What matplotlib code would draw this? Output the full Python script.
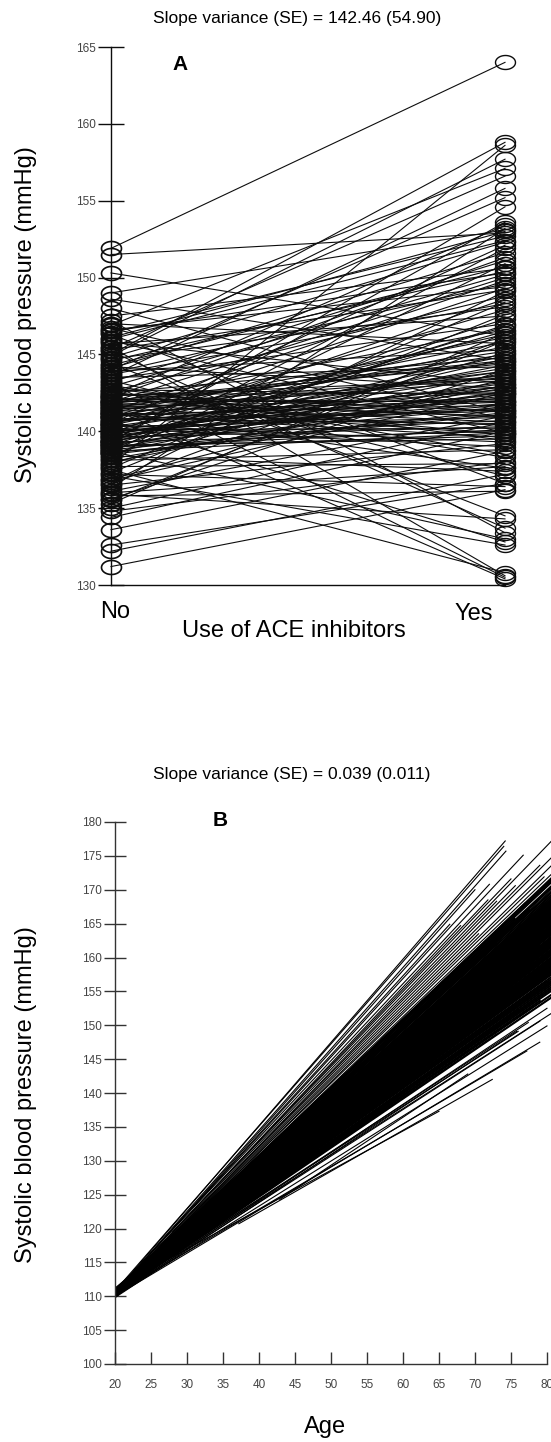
import numpy as np
import matplotlib
matplotlib.use("Agg")
import matplotlib.pyplot as plt
from matplotlib.path import Path

plt.rcParams['font.family'] = ['Liberation Sans', 'DejaVu Sans']

# - PANEL A DATA - #
# predicted SBP per subject without / with ACE inhibitors
no_sbp = [
    151.9, 151.5, 150.3, 149.0, 148.6, 148.0, 147.5, 147.2, 146.9, 146.6,
    146.3, 146.0, 145.8, 145.5, 145.2, 145.0, 144.7, 144.4, 144.1, 143.9,
    143.6, 143.4, 143.1, 142.9, 142.7, 142.5, 142.3, 142.1, 141.9, 141.7,
    141.5, 141.3, 141.1, 140.9, 140.7, 140.5, 140.3, 140.1, 139.9, 139.7,
    139.5, 139.3, 139.1, 138.9, 138.7, 138.5, 138.3, 138.1, 137.9, 137.7,
    137.5, 137.3, 137.1, 136.9, 136.7, 136.5, 136.3, 136.1, 135.9, 135.6,
    135.3, 135.0, 134.8, 134.4, 133.6, 132.6, 132.2, 131.2, 144.9, 143.0,
    142.0, 141.8, 141.6, 141.4, 141.2, 141.0, 140.8, 140.6, 140.4, 140.2,
    140.0, 139.8, 139.6, 139.4, 139.2, 139.0, 138.8, 138.6, 138.4, 138.2,
    142.8, 142.6, 142.4, 142.2, 143.3, 143.8, 144.2, 144.6, 145.4, 145.9,
    146.4, 146.7, 147.0, 137.2, 136.8, 136.0, 135.8, 137.6, 138.0, 139.3,
    140.5, 141.2, 141.9, 142.6, 143.5, 144.0, 139.1, 138.6, 137.8, 140.9,
    139.0, 139.2, 139.4, 139.6, 139.8, 140.0, 140.2, 140.4, 140.6, 140.8,
    141.0, 141.2, 141.4, 141.6, 141.8, 142.0, 142.2, 142.4, 138.8, 138.6,
    139.1, 139.3, 139.5, 139.7, 139.9, 140.1, 140.3, 140.5, 140.7, 140.9,
    141.1, 141.3, 141.5, 141.7, 141.9, 142.1, 142.3, 138.7, 138.9, 139.4,
    143.2, 143.7, 144.3, 144.8, 145.3, 145.7, 146.1, 146.5, 136.6, 135.5,
]
yes_sbp = [
    164.0, 152.9, 146.2, 153.1, 144.6, 141.2, 150.6, 133.4, 157.1, 149.4,
    136.6, 152.4, 143.1, 130.6, 133.7, 158.8, 148.1, 134.5, 151.6, 145.3,
    155.8, 147.0, 130.5, 150.2, 142.4, 144.8, 153.4, 140.9, 146.6, 143.6,
    130.4, 149.8, 141.7, 145.8, 132.8, 152.1, 143.9, 140.2, 148.6, 142.9,
    144.3, 154.6, 139.5, 146.9, 133.0, 141.4, 150.9, 138.8, 145.1, 137.9,
    130.8, 147.6, 132.6, 143.4, 149.1, 139.2, 153.2, 141.0, 134.3, 144.0,
    146.4, 140.6, 138.0, 140.0, 138.7, 136.6, 137.2, 136.2, 157.7, 138.5,
    142.0, 144.5, 139.8, 143.3, 146.1, 141.9, 140.5, 142.7, 145.5, 139.0,
    141.5, 143.7, 140.3, 142.2, 147.3, 139.7, 144.7, 141.1, 137.4, 142.6,
    139.4, 148.8, 141.3, 151.3, 137.1, 149.6, 142.8, 150.4, 156.6, 139.9,
    152.7, 140.8, 145.7, 136.4, 142.5, 137.7, 136.1, 148.4, 143.0, 153.6,
    147.9, 137.6, 150.0, 138.3, 144.2, 155.2, 146.8, 151.9, 158.6, 149.3,
    140.1, 141.6, 142.3, 140.7, 143.2, 141.8, 144.1, 139.3, 142.9, 141.4,
    145.0, 140.4, 143.5, 142.1, 141.0, 144.6, 139.8, 142.5, 141.2, 143.8,
    142.8, 140.0, 144.9, 141.7, 143.1, 142.4, 140.9, 146.3, 141.3, 143.9,
    139.6, 142.0, 145.2, 140.6, 144.4, 141.9, 143.4, 139.9, 142.6, 146.5,
    151.1, 148.3, 150.7, 152.3, 149.2, 147.5, 153.0, 150.3, 146.0, 145.9,
]
ace_labels = ["No", "Yes"]
a_yticks = [130, 135, 140, 145, 150, 155, 160, 165]

# - PANEL B DATA - #
# individual regression lines of SBP on age: (start age, start sbp) -> (end age, end sbp)
# order: 24 steep upper lines, 81 core lines, 18 flat lower lines
n_upper, n_lower = 24, 18
age_start = [
    # steep upper lines
    20.0, 20.0, 20.0, 20.0, 21.0, 31.0, 20.0, 20.0, 28.0, 20.0, 20.0, 20.0,
    24.0, 20.0, 20.0, 22.0, 20.0, 20.0, 20.0, 20.0, 20.0, 20.0, 20.0, 20.0,
    # core
    20.0, 21.0, 20.0, 20.0, 22.0, 20.0, 20.0, 20.5, 20.0, 20.0, 21.0, 20.0,
    20.0, 20.0, 20.0, 22.0, 20.0, 20.0, 20.0, 20.0, 21.0, 20.0, 20.0, 20.0,
    20.0, 20.0, 20.5, 20.0, 20.0, 20.0, 20.0, 22.0, 20.0, 20.0, 20.0, 20.0,
    20.0, 20.0, 20.0, 20.0, 20.0, 20.0, 20.0, 20.0, 20.0, 20.0, 20.0, 20.0,
    20.0, 20.0, 20.0, 20.0, 20.0, 20.0, 20.0, 20.0, 20.0,
    20.0, 20.0, 20.0, 20.0, 20.0, 20.0, 20.0, 20.0, 20.0, 20.0,
    20.0, 20.0, 20.0, 20.0, 20.0, 20.0, 20.0, 20.0, 20.0, 20.0,
    20.0, 20.0, 20.0, 20.0, 20.0, 20.0, 20.0, 20.0, 20.0, 20.0,
    20.0, 20.0, 20.0, 20.0, 20.0, 20.0, 20.0, 20.0,
    20.0, 20.0, 20.0, 20.0, 20.0, 20.0, 20.0, 20.0, 20.0, 20.0, 20.0, 20.0,
    20.0, 20.0, 20.0, 20.0, 20.0, 20.0, 20.0, 20.0, 20.0, 20.0, 20.0, 20.0,
    # flat lower lines
    20.0, 20.0, 20.0, 20.0, 20.0, 20.0, 21.0, 20.0, 20.0, 20.0, 20.0, 20.0,
    20.0, 22.0, 37.2, 22.1, 42.9, 20.0,
]
sbp_start = [
    110.6, 110.8, 110.5, 110.4, 111.7, 123.3, 110.7, 110.4, 119.5, 110.6, 110.5, 110.3,
    114.8, 110.6, 110.5, 112.6, 110.4, 110.6, 110.5, 110.7, 110.5, 110.4, 110.6, 110.5,
    110.5, 111.5, 110.2, 110.5, 112.4, 110.8, 110.5, 111.0, 109.9, 110.5, 111.4, 110.5,
    111.1, 110.5, 110.3, 112.3, 110.5, 110.7, 110.5, 110.2, 111.4, 110.5, 110.9, 110.5,
    110.5, 110.0, 110.9, 110.5, 110.5, 110.8, 110.5, 112.1, 110.3, 110.5, 110.6, 110.5,
    110.5, 110.4, 110.5, 110.5, 110.2, 110.6, 110.5, 110.9, 110.5, 110.4, 110.5, 110.3,
    110.7, 110.5, 110.1, 110.5, 110.8, 110.5, 110.3, 110.6, 110.5,
    110.2, 110.5, 110.4, 110.6, 110.3, 110.5, 110.1, 110.5, 110.4, 110.6,
    110.7, 110.5, 110.8, 110.5, 110.6, 110.4, 110.9, 110.5, 110.7, 110.5,
    110.4, 110.5, 110.6, 110.3, 110.5, 110.7, 110.5, 110.2, 110.5, 110.6,
    110.5, 110.4, 110.6, 110.5, 110.8, 110.5, 110.6, 110.5,
    110.0, 111.0, 110.2, 110.8, 110.1, 110.9, 110.3, 111.0, 110.0, 110.7, 110.2, 110.9,
    110.1, 110.8, 110.0, 111.0, 110.3, 110.7, 110.1, 110.9, 110.2, 110.8, 110.0, 110.6,
    110.5, 110.3, 110.6, 110.2, 110.5, 110.0, 111.2, 110.4, 110.1, 110.0, 110.3, 110.5,
    109.8, 111.8, 120.7, 112.4, 124.3, 110.0,
]
age_end = [
    74.2, 74.0, 74.3, 70.0, 66.5, 72.0, 76.7, 68.0, 71.8, 75.0, 82.0, 73.0,
    75.6, 79.0, 82.0, 70.5, 82.0, 79.6, 82.0, 77.0, 82.0, 74.0, 82.0, 82.0,
    82.0, 78.0, 82.0, 72.0, 82.0, 76.0, 82.0, 80.0, 82.0, 69.0, 82.0, 82.0,
    77.0, 82.0, 82.0, 74.0, 82.0, 82.0, 79.0, 82.0, 82.0, 71.0, 82.0, 82.0,
    78.0, 82.0, 82.0, 82.0, 75.0, 82.0, 82.0, 80.0, 82.0, 82.0, 82.0, 77.0,
    82.0, 82.0, 82.0, 82.0, 82.0, 82.0, 82.0, 82.0, 82.0, 82.0, 82.0, 82.0,
    82.0, 82.0, 82.0, 82.0, 82.0, 82.0, 82.0, 82.0, 82.0,
    82.0, 82.0, 79.0, 82.0, 82.0, 76.0, 82.0, 82.0, 82.0, 80.0,
    73.0, 82.0, 82.0, 77.5, 82.0, 82.0, 75.5, 82.0, 82.0, 82.0,
    82.0, 82.0, 82.0, 82.0, 82.0, 82.0, 82.0, 82.0, 82.0, 82.0,
    82.0, 82.0, 82.0, 82.0, 82.0, 82.0, 82.0, 82.0,
    82.0, 82.0, 82.0, 82.0, 82.0, 82.0, 82.0, 82.0, 82.0, 82.0, 82.0, 82.0,
    82.0, 82.0, 82.0, 82.0, 82.0, 82.0, 82.0, 82.0, 82.0, 82.0, 82.0, 82.0,
    82.0, 80.0, 82.0, 78.0, 82.0, 80.0, 76.0, 82.0, 79.0, 79.0, 77.2, 73.0,
    75.8, 77.4, 72.4, 65.0, 69.0, 80.0,
]
sbp_end = [
    177.2, 176.4, 175.7, 170.0, 164.9, 170.8, 175.1, 164.7, 168.5, 171.6, 178.7, 168.3,
    170.6, 173.6, 176.2, 163.5, 175.0, 171.9, 173.7, 168.1, 172.5, 164.0, 171.3, 170.6,
    170.0, 165.9, 169.4, 159.6, 168.8, 162.9, 168.2, 166.0, 167.5, 155.3, 166.9, 166.6,
    161.8, 166.0, 165.7, 158.3, 165.1, 164.8, 161.8, 164.1, 163.8, 154.1, 163.2, 162.9,
    159.2, 162.3, 162.0, 161.7, 155.6, 161.0, 160.7, 158.8, 160.1, 159.8, 159.5, 155.2,
    158.9, 158.6, 158.2, 169.5, 168.3, 167.0, 165.8, 164.6, 163.3, 162.1, 160.8, 159.6,
    168.9, 167.7, 166.4, 165.2, 163.9, 162.7, 161.5, 160.2, 159.0,
    155.1, 155.5, 153.6, 156.1, 156.4, 152.2, 157.0, 157.3, 157.6, 156.4,
    162.1, 170.6, 171.0, 167.0, 171.6, 171.9, 165.7, 172.5, 172.8, 173.1,
    159.3, 159.9, 160.5, 161.2, 161.8, 162.4, 163.0, 163.6, 164.3, 164.9,
    165.5, 166.1, 166.7, 167.4, 168.0, 168.6, 169.2, 169.8,
    156.7, 157.3, 157.9, 158.6, 159.2, 159.8, 160.4, 161.0, 161.7, 162.3, 162.9, 163.5,
    164.1, 164.8, 165.4, 166.0, 166.6, 167.2, 167.9, 168.5, 169.1, 169.7, 170.3, 171.0,
    157.6, 155.5, 156.4, 152.8, 155.1, 152.5, 149.1, 152.7, 150.6, 147.5, 146.2, 148.7,
    149.1, 150.4, 142.0, 137.3, 142.8, 149.9,
]
b_xticks = [20, 25, 30, 35, 40, 45, 50, 55, 60, 65, 70, 75, 80]
b_yticks = list(range(100, 185, 5))

# - FIGURE - #
W, H = 551, 1442
fig = plt.figure(figsize=(W / 100, H / 100), dpi=100)

def box(x0, y0, x1, y1):
    # pixel box (top-left origin) -> figure fraction rect
    return [x0 / W, 1 - y1 / H, (x1 - x0) / W, (y1 - y0) / H]

def ftext(x, y, s, **kw):
    fig.text(x / W, 1 - y / H, s, ha='center', va='center', **kw)

ink = '#0d0d0d'
tickgrey = '#444444'

# open ellipse marker like the original graph
t = np.linspace(0, 2 * np.pi, 64)
ring = Path(np.column_stack([np.cos(t), 0.7 * np.sin(t)]))

# panel A
axA = fig.add_axes(box(111, 47, 505, 585))
for n, y in zip(no_sbp, yes_sbp):
    axA.plot([0, 1], [n, y], color=ink, lw=0.8, clip_on=False)
axA.plot(np.zeros(len(no_sbp)), no_sbp, ls='none', marker=ring, ms=14.4,
         mfc='none', mec=ink, mew=1.2, clip_on=False)
axA.plot(np.ones(len(yes_sbp)), yes_sbp, ls='none', marker=ring, ms=14.4,
         mfc='none', mec=ink, mew=1.0, clip_on=False)
axA.set_xlim(0, 1)
axA.set_ylim(130, 165)
axA.set_yticks(a_yticks)
axA.set_xticks([])
axA.tick_params(axis='y', direction='inout', length=19, width=1, color=ink,
                labelsize=8.5, labelcolor=tickgrey, pad=1.5)
for side in ['top', 'right']:
    axA.spines[side].set_visible(False)
for side in ['left', 'bottom']:
    axA.spines[side].set_color(ink)
    axA.spines[side].set_linewidth(1)
axA.patch.set_alpha(0)

ftext(297, 18, "Slope variance (SE) = 142.46 (54.90)", fontsize=12.5)
ftext(180, 65, "A", fontsize=15, fontweight='bold')
ftext(115, 612, ace_labels[0], fontsize=17)
ftext(474, 614, ace_labels[1], fontsize=17)
ftext(294, 631, "Use of ACE inhibitors", fontsize=17)
ftext(26, 315, "Systolic blood pressure (mmHg)", fontsize=17, rotation=90)

# panel B
axB = fig.add_axes(box(115, 822, 551, 1364))
n_lines = len(age_start)
for i, (a0, s0, a1, s1) in enumerate(zip(age_start, sbp_start, age_end, sbp_end)):
    core = n_upper <= i < n_lines - n_lower
    axB.plot([a0, a1], [s0, s1], color='black', lw=1.5 if core else 0.8)
axB.set_xlim(20, 80.56)
axB.set_ylim(100, 180)
axB.set_xticks(b_xticks)
axB.set_yticks(b_yticks)
axB.tick_params(axis='y', direction='inout', length=16, width=1, color='#333333',
                labelsize=8.5, labelcolor=tickgrey, pad=1.5)
axB.tick_params(axis='x', direction='in', length=8.5, width=1, color='#333333',
                labelsize=8.5, labelcolor=tickgrey, pad=11)
for side in ['top', 'right']:
    axB.spines[side].set_visible(False)
axB.spines['bottom'].set_bounds(20, 80)
for side in ['left', 'bottom']:
    axB.spines[side].set_color('#333333')
    axB.spines[side].set_linewidth(1)
axB.patch.set_alpha(0)

ftext(292, 775, "Slope variance (SE) = 0.039 (0.011)", fontsize=12.5)
ftext(220, 820, "B", fontsize=15, fontweight='bold')
ftext(325, 1427, "Age", fontsize=17)
ftext(26, 1095, "Systolic blood pressure (mmHg)", fontsize=17, rotation=90)

fig.savefig('out.png', dpi=100, facecolor='white')
